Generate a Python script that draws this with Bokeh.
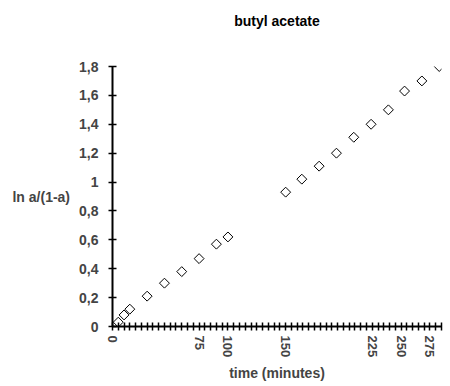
import math
from bokeh.plotting import figure
from bokeh.models import FixedTicker, CustomJSTickFormatter, ColumnDataSource, Title
from bokeh.embed import file_html
from bokeh.resources import INLINE

# ---- data ----
time_min = [5, 10, 15, 30, 45, 60, 75, 90, 100,
            150, 164, 179, 194, 209, 224, 239, 253, 268, 283]
ln_ratio = [0.03, 0.08, 0.12, 0.21, 0.30, 0.38, 0.47, 0.57, 0.62,
            0.93, 1.02, 1.11, 1.20, 1.31, 1.40, 1.50, 1.63, 1.70, 1.80]
x_tick_labels = [0, 75, 100, 150, 225, 250, 275]
x_ticks = list(range(0, 290, 5))
y_ticks = [0, 0.2, 0.4, 0.6, 0.8, 1.0, 1.2, 1.4, 1.6, 1.8]
chart_title = "butyl acetate"

FONT = "Liberation Sans"

p = figure(width=443, height=384, output_backend="svg", toolbar_location=None,
           x_range=(0, 285), y_range=(0, 1.8),
           min_border_left=112, min_border_right=2, min_border_top=66,
           min_border_bottom=56, title=None)
p.outline_line_color = None
p.xgrid.grid_line_color = None
p.ygrid.grid_line_color = None
p.background_fill_color = "white"
p.border_fill_color = "white"

# spacer (closest to frame), then the real title above it
p.add_layout(Title(text=" ", text_font_size="14px", standoff=15), "above")
p.add_layout(Title(text=chart_title, align="center", text_font=FONT,
                   text_font_size="14px", text_font_style="bold",
                   text_color="black", standoff=10), "above")

src = ColumnDataSource(dict(x=time_min, y=ln_ratio))
p.scatter("x", "y", source=src, marker="square", size=7, angle=math.pi / 4,
          fill_color=None, line_color="black", line_width=1)

# x axis
xa = p.xaxis[0]
xa.ticker = FixedTicker(ticks=x_ticks)
xa.formatter = CustomJSTickFormatter(args=dict(show=x_tick_labels),
                                     code="return show.includes(Math.round(tick)) ? String(Math.round(tick)) : '';")
xa.major_label_orientation = -math.pi / 2
xa.major_tick_in = 4
xa.major_tick_out = 4
xa.minor_tick_line_color = None
xa.major_tick_line_width = 1.5
xa.axis_line_width = 2
xa.major_label_standoff = 5
xa.axis_label = "time (minutes)"
xa.axis_label_standoff = 5
xa.axis_label_text_font = FONT
xa.axis_label_text_font_size = "14px"
xa.axis_label_text_font_style = "bold"
xa.major_label_text_font = FONT
xa.major_label_text_font_size = "13px"
xa.major_label_text_font_style = "bold"

# y axis
ya = p.yaxis[0]
ya.ticker = FixedTicker(ticks=y_ticks)
ya.formatter = CustomJSTickFormatter(code="""
const r = Math.round(tick * 10) / 10;
if (Math.abs(r - Math.round(r)) < 1e-9) return String(Math.round(r));
return r.toFixed(1).replace('.', ',');
""")
ya.major_tick_in = 4
ya.major_tick_out = 4
ya.minor_tick_line_color = None
ya.major_tick_line_width = 1.5
ya.axis_line_width = 2
ya.major_label_standoff = 10
ya.axis_label = "ln a/(1-a)"
ya.axis_label_orientation = "horizontal"
ya.axis_label_standoff = 6
ya.axis_label_text_font = FONT
ya.axis_label_text_font_size = "14px"
ya.axis_label_text_font_style = "bold"
ya.major_label_text_font = FONT
ya.major_label_text_font_size = "14px"
ya.major_label_text_font_style = "bold"

open("out.html", "w").write(file_html(p, INLINE))
